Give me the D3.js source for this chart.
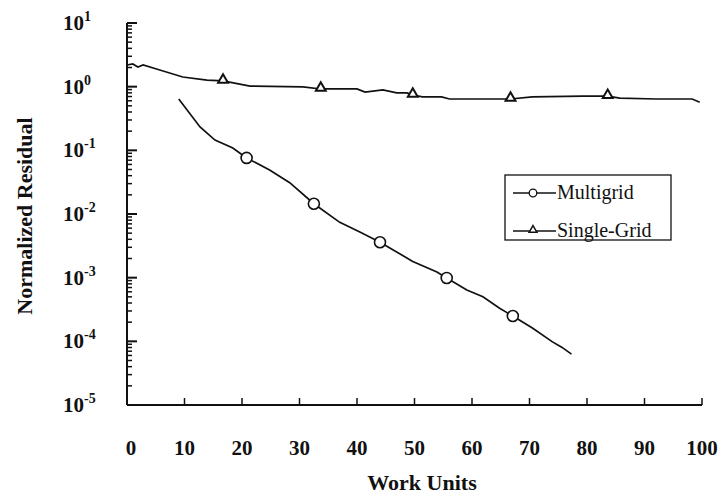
<!DOCTYPE html>
<html>
<head>
<meta charset="utf-8">
<script src="https://cdn.jsdelivr.net/npm/d3@7/dist/d3.min.js"></script>
<style>
  html, body { margin: 0; padding: 0; background: #fff; }
  svg { display: block; }
  text { font-family: "Liberation Serif", "Times New Roman", serif; fill: #111; }
</style>
</head>
<body>
<svg id="chart" width="726" height="496"></svg>
<script>
// Convergence history: normalized residual vs. work units
const multigridX = [9.0, 12.7, 15.3, 18.4, 20.8, 24.8, 28.3, 32.5, 37.0, 40.5, 44.0, 49.7, 53.9, 55.6, 59.1, 61.9, 64.8, 67.1, 70.5, 74.0, 75.6, 77.3];
const multigridY = [0.64, 0.233, 0.145, 0.109, 0.076, 0.049, 0.031, 0.0145, 0.0074, 0.0052, 0.0036, 0.0018, 0.00123, 0.00099, 0.00064, 0.0005, 0.00033, 0.00025, 0.000162, 0.000098, 0.000081, 0.000063];
const multigridMarkX = [20.8, 32.5, 44.0, 55.6, 67.1];
const multigridMarkY = [0.076, 0.0145, 0.0036, 0.00099, 0.00025];

const singleX = [0, 1.0, 1.9, 2.8, 5.7, 9.7, 13.9, 16.7, 21.4, 30.6, 33.7, 40.0, 41.4, 44.5, 46.9, 48.7, 49.7, 51.4, 54.7, 56.1, 60.8, 66.7, 70.5, 79.2, 83.6, 85.7, 92.1, 96.1, 98.3, 99.6];
const singleY = [2.19, 2.27, 2.04, 2.19, 1.83, 1.42, 1.27, 1.23, 1.02, 0.99, 0.92, 0.92, 0.82, 0.89, 0.80, 0.80, 0.74, 0.69, 0.69, 0.64, 0.64, 0.64, 0.69, 0.71, 0.71, 0.66, 0.64, 0.64, 0.64, 0.57];
const singleMarkX = [16.7, 33.7, 49.7, 66.7, 83.6];
const singleMarkY = [1.23, 0.92, 0.74, 0.64, 0.71];

const xTicks = [0, 10, 20, 30, 40, 50, 60, 70, 80, 90, 100];
const yExponents = [1, 0, -1, -2, -3, -4, -5];
const seriesNames = ["Multigrid", "Single-Grid"];

const svg = d3.select("#chart");
const margin = { left: 127, right: 24, top: 23, bottom: 91 };
const W = 726, H = 496;

const x = d3.scaleLinear().domain([0, 100]).range([margin.left, W - margin.right]);
const y = d3.scaleLog().domain([1e-5, 10]).range([H - margin.bottom, margin.top]);

svg.append("rect").attr("width", W).attr("height", H).attr("fill", "#fff");

// y axis: decade ticks with inside minor ticks
const yAxis = svg.append("g");
yAxis.append("line")
  .attr("x1", x(0)).attr("x2", x(0))
  .attr("y1", y(10)).attr("y2", y(1e-5))
  .attr("stroke", "#111").attr("stroke-width", 2);

const minorVals = [];
for (let e = -5; e < 1; e++) for (let m = 2; m <= 9; m++) minorVals.push(m * Math.pow(10, e));
yAxis.selectAll(".minor").data(minorVals).join("line")
  .attr("x1", x(0)).attr("x2", x(0) + 5)
  .attr("y1", d => y(d)).attr("y2", d => y(d))
  .attr("stroke", "#111").attr("stroke-width", 1.5);
yAxis.selectAll(".major").data(yExponents).join("line")
  .attr("x1", x(0)).attr("x2", x(0) + 10)
  .attr("y1", d => y(Math.pow(10, d))).attr("y2", d => y(Math.pow(10, d)))
  .attr("stroke", "#111").attr("stroke-width", 2);

const yLab = yAxis.selectAll(".ylab").data(yExponents).join("text")
  .attr("x", 63)
  .attr("y", d => y(Math.pow(10, d)) + 7)
  .attr("font-size", 21)
  .attr("font-weight", "bold");
yLab.append("tspan").text("10");
yLab.append("tspan").attr("dy", -9).attr("font-size", 14).text(d => d < 0 ? "-" + (-d) : String(d));

// x axis: inside ticks pointing up
const xAxis = svg.append("g");
xAxis.append("line")
  .attr("x1", x(0)).attr("x2", x(100))
  .attr("y1", y(1e-5)).attr("y2", y(1e-5))
  .attr("stroke", "#111").attr("stroke-width", 2);
xAxis.selectAll(".xt").data(xTicks.slice(1)).join("line")
  .attr("x1", d => x(d)).attr("x2", d => x(d))
  .attr("y1", y(1e-5)).attr("y2", y(1e-5) - 7)
  .attr("stroke", "#111").attr("stroke-width", 1.5);
xAxis.selectAll(".xl").data(xTicks).join("text")
  .attr("x", d => x(d) + (d === 0 ? 4 : 0))
  .attr("y", 455)
  .attr("text-anchor", "middle")
  .attr("font-size", 21)
  .attr("font-weight", "bold")
  .text(d => d);

// axis titles
svg.append("text")
  .attr("x", 422).attr("y", 490)
  .attr("text-anchor", "middle")
  .attr("font-size", 22).attr("font-weight", "bold")
  .text("Work Units");
svg.append("text")
  .attr("transform", "translate(32,216) rotate(-90)")
  .attr("text-anchor", "middle")
  .attr("font-size", 22).attr("font-weight", "bold")
  .text("Normalized Residual");

// curves
const line = d3.line().x(d => x(d[0])).y(d => y(d[1]));
svg.append("path")
  .datum(singleX.map((v, i) => [v, singleY[i]]))
  .attr("d", line).attr("fill", "none").attr("stroke", "#111").attr("stroke-width", 1.7);
svg.append("path")
  .datum(multigridX.map((v, i) => [v, multigridY[i]]))
  .attr("d", line).attr("fill", "none").attr("stroke", "#111").attr("stroke-width", 1.7);

const tri = d3.symbol().type(d3.symbolTriangle).size(42);
svg.selectAll(".tri").data(singleMarkX.map((v, i) => [v, singleMarkY[i]])).join("path")
  .attr("d", tri)
  .attr("transform", d => `translate(${x(d[0])},${y(d[1]) - 1})`)
  .attr("fill", "#fff").attr("stroke", "#111").attr("stroke-width", 2);
svg.selectAll(".circ").data(multigridMarkX.map((v, i) => [v, multigridMarkY[i]])).join("circle")
  .attr("cx", d => x(d[0])).attr("cy", d => y(d[1])).attr("r", 5.5)
  .attr("fill", "#fff").attr("stroke", "#111").attr("stroke-width", 1.6);

// legend
const lg = svg.append("g").attr("transform", "translate(505,175)");
lg.append("rect").attr("width", 166).attr("height", 65)
  .attr("fill", "#fff").attr("stroke", "#111").attr("stroke-width", 1.3);
seriesNames.forEach((name, i) => {
  const cy = i === 0 ? 18 : 56;
  lg.append("line").attr("x1", 8).attr("x2", 51).attr("y1", cy).attr("y2", cy)
    .attr("stroke", "#111").attr("stroke-width", 1.3);
  if (i === 0) {
    lg.append("circle").attr("cx", 28).attr("cy", cy).attr("r", 3.8)
      .attr("fill", "#fff").attr("stroke", "#111").attr("stroke-width", 1.3);
  } else {
    lg.append("path").attr("d", d3.symbol().type(d3.symbolTriangle).size(26)())
      .attr("transform", `translate(28,${cy - 1})`)
      .attr("fill", "#fff").attr("stroke", "#111").attr("stroke-width", 1.5);
  }
  lg.append("text").attr("x", 52).attr("y", cy + 6)
    .attr("font-size", 20).text(name);
});
</script>
</body>
</html>
